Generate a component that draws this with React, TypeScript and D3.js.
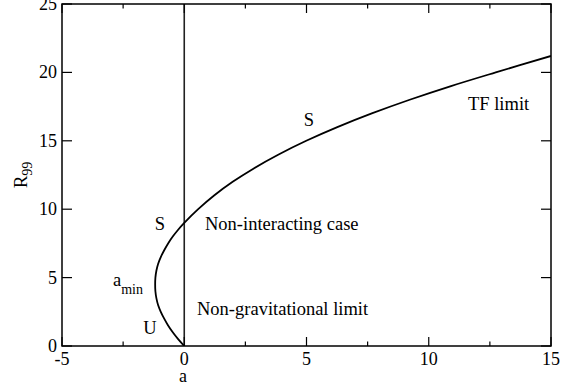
import React from "react";
import * as d3 from "d3";

// Radius R99 of the condensate versus scattering length a, sampled along the curve
const curveR = [0, 0.5, 1, 1.5, 2, 2.5, 3, 3.5, 4, 4.5, 5, 5.5, 6, 6.5, 7, 7.5, 8, 8.5, 9, 10, 11, 12, 13, 14, 15, 16, 17, 18, 19, 20, 21.2];
const curveA = [0, -0.25, -0.47, -0.66, -0.82, -0.96, -1.07, -1.14, -1.18, -1.19, -1.18, -1.14, -1.07, -0.96, -0.82, -0.66, -0.47, -0.25, 0, 0.57, 1.22, 1.98, 2.86, 3.86, 4.99, 6.26, 7.67, 9.22, 10.91, 12.74, 15.0];

// Non-gravitational limit: vertical line at a = 0
const limitA = [0, 0];
const limitR = [0, 25];

const xTicks = [-5, 0, 5, 10, 15];
const xMinorTicks = [-2.5, 2.5, 7.5, 12.5];
const yTicks = [0, 5, 10, 15, 20, 25];

const W = 561;
const H = 385;
const FONT = "'Liberation Serif', 'Times New Roman', serif";

export default function App() {
  const x = d3.scaleLinear().domain([-5, 15]).range([62, 551]);
  const y = d3.scaleLinear().domain([0, 25]).range([346, 4]);

  const pts: [number, number][] = curveA.map((a, i) => [a, curveR[i]]);
  const line = d3
    .line<[number, number]>()
    .x((d) => x(d[0]))
    .y((d) => y(d[1]))
    .curve(d3.curveCatmullRom.alpha(0.5));
  const limitPts: [number, number][] = limitA.map((a, i) => [a, limitR[i]]);
  const straight = d3
    .line<[number, number]>()
    .x((d) => x(d[0]))
    .y((d) => y(d[1]));

  const [x0, x1] = x.range();
  const [y0, y1] = y.range();

  return (
    <svg
      width={W}
      height={H}
      style={{ position: "absolute", left: 0, top: 0, background: "#fff" }}
      fontFamily={FONT}
    >
      <defs>
        <clipPath id="plot-area">
          <rect x={x0} y={y1} width={x1 - x0} height={y0 - y1} />
        </clipPath>
      </defs>
      {/* vertical non-gravitational limit */}
      <path d={straight(limitPts) || ""} stroke="#222" strokeWidth={1.6} fill="none" />
      {/* R99(a) curve */}
      <path d={line(pts) || ""} stroke="#000" strokeWidth={1.8} fill="none" clipPath="url(#plot-area)" />

      {/* x ticks, bottom and top, pointing inward */}
      {xTicks.map((t) => (
        <g key={"xt" + t}>
          <line x1={x(t)} x2={x(t)} y1={y0} y2={y0 - 9} stroke="#000" strokeWidth={1.2} />
          <line x1={x(t)} x2={x(t)} y1={y1} y2={y1 + 9} stroke="#000" strokeWidth={1.2} />
          <text x={x(t)} y={365} fontSize={18} textAnchor="middle" fill="#000">
            {t}
          </text>
        </g>
      ))}
      {xMinorTicks.map((t) => (
        <g key={"xm" + t}>
          <line x1={x(t)} x2={x(t)} y1={y0} y2={y0 - 4.5} stroke="#000" strokeWidth={1.2} />
          <line x1={x(t)} x2={x(t)} y1={y1} y2={y1 + 4.5} stroke="#000" strokeWidth={1.2} />
        </g>
      ))}
      {/* y ticks, left and right */}
      {yTicks.map((t) => (
        <g key={"yt" + t}>
          <line x1={x0} x2={x0 + 10} y1={y(t)} y2={y(t)} stroke="#000" strokeWidth={1.2} />
          <line x1={x1} x2={x1 - 10} y1={y(t)} y2={y(t)} stroke="#000" strokeWidth={1.2} />
          <text x={57} y={y(t) + 6} fontSize={18} textAnchor="end" fill="#000">
            {t}
          </text>
        </g>
      ))}

      {/* frame */}
      <rect x={x0} y={y1} width={x1 - x0} height={y0 - y1} fill="none" stroke="#000" strokeWidth={1.5} />

      {/* axis titles */}
      <text x={183} y={382} fontSize={18} textAnchor="middle" fill="#000">
        a
      </text>
      <text transform="translate(27,175) rotate(-90)" fontSize={19} textAnchor="middle" fill="#000">
        R<tspan fontSize={14} dy={5}>99</tspan>
      </text>

      {/* annotations */}
      <text x={309} y={126} fontSize={18.5} textAnchor="middle" fill="#000">S</text>
      <text x={468} y={110} fontSize={18.5} fill="#000">TF limit</text>
      <text x={160} y={230} fontSize={18.5} textAnchor="middle" fill="#000">S</text>
      <text x={205} y={230} fontSize={18.5} fill="#000">Non-interacting case</text>
      <text x={113} y={286} fontSize={18.5} fill="#000">
        a<tspan fontSize={14} dy={8}>min</tspan>
      </text>
      <text x={150} y={334} fontSize={18.5} textAnchor="middle" fill="#000">U</text>
      <text x={197} y={315} fontSize={18.5} fill="#000">Non-gravitational limit</text>
    </svg>
  );
}
